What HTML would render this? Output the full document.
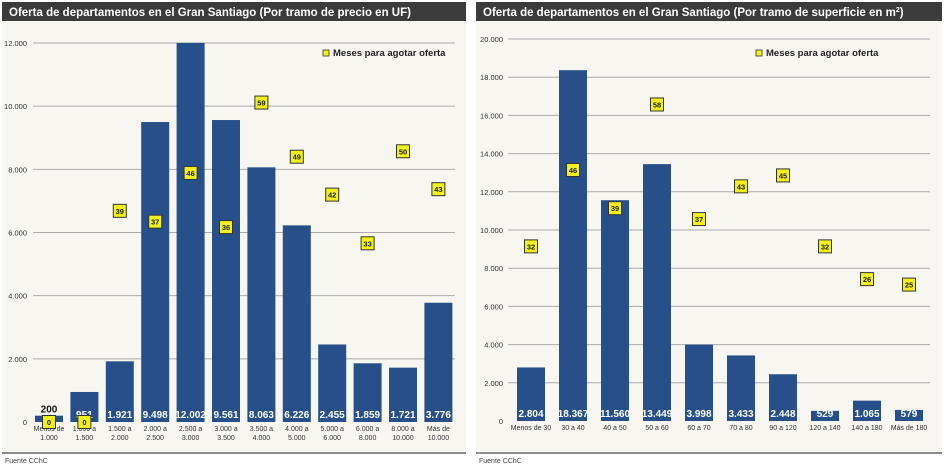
<!DOCTYPE html>
<html><head><meta charset="utf-8">
<style>
body{margin:0;width:945px;height:471px;background:#fff;overflow:hidden;font-family:"Liberation Sans",sans-serif}
svg{position:absolute;left:0;top:0}
</style></head>
<body>
<svg id="c" width="945" height="471"></svg>
<script>
const catsA=["Menos de|1.000","1.000 a|1.500","1.500 a|2.000","2.000 a|2.500","2.500 a|3.000","3.000 a|3.500","3.500 a|4.000","4.000 a|5.000","5.000 a|6.000","6.000 a|8.000","8.000 a|10.000","Más de|10.000"];
const unitsA=[200,951,1921,9498,12002,9561,8063,6226,2455,1859,1721,3776];
const monthsA=[0,0,39,37,46,36,59,49,42,33,50,43];
const ticksA=[0,2000,4000,6000,8000,10000,12000];
const catsB=["Menos de 30","30 a 40","40 a 50","50 a 60","60 a 70","70 a 80","90 a 120","120 a 140","140 a 180","Más de 180"];
const unitsB=[2804,18367,11560,13449,3998,3433,2448,529,1065,579];
const monthsB=[32,46,39,58,37,43,45,32,26,25];
const ticksB=[0,2000,4000,6000,8000,10000,12000,14000,16000,18000,20000];
const NS="http://www.w3.org/2000/svg";
const svg=document.getElementById('c');
function el(t,a,p){const e=document.createElementNS(NS,t);for(const k in a)e.setAttribute(k,a[k]);(p||svg).appendChild(e);return e;}
function fmt(v){return v.toString().replace(/\B(?=(\d{3})+(?!\d))/g,'.');}
function chart(o){
  const g=el('g',{});
  
  
  el('rect',{x:o.x0,y:2,width:o.w,height:449,fill:'#f7f6f1'},g);
  const tb=el('rect',{x:o.x0,y:2,width:o.w,height:19,fill:'#3b3b3b'},g);
  
  
  const tt=el('text',{x:o.x0+7,y:16,fill:'#fff','font-size':'11.5','font-weight':'bold'},g);
  tt.innerHTML=o.title;
  
  
  const y=v=>o.yb-(v/o.max)*(o.yb-o.yt);
  const ym=v=>o.yb-(v/70)*(o.yb-o.yt);
  const xc=i=>o.c0+i*o.step;
  o.ticks.forEach(t=>{
    if(t>0){const l=el('line',{x1:o.gx1,x2:o.gx2,y1:y(t),y2:y(t),stroke:'#aaa','stroke-width':1},g);
      }
    const tx=el('text',{x:o.lx,y:y(t)+3,'font-size':'7.5',fill:'#333','text-anchor':'end'},g);
    tx.textContent=fmt(t);
    
    
  });
  o.units.forEach((v,i)=>{
    const b=el('rect',{x:xc(i)-o.bw/2,y:y(v),width:o.bw,height:o.yb-y(v),fill:'#27508a'},g);
    
    
    const small=(o.yb-y(v))<8;
    const lt=el('text',{x:xc(i),y:small?y(v)-3:o.yb-4,'font-size':'10','font-weight':'bold',fill:small?'#111':'#fff','text-anchor':'middle'},g);
    lt.textContent=fmt(v);
    
    
    const parts=o.cats[i].split('|');
    parts.forEach((p,k)=>{
      const c=el('text',{x:xc(i),y:o.yb+9+k*9,'font-size':'7',fill:'#333','text-anchor':'middle'},g);
      c.textContent=p;
      
      
    });
  });
  o.months.forEach((m,i)=>{
    const cy=ym(m);
    const r=el('rect',{x:xc(i)-6.5,y:cy-6.5,width:13,height:13,fill:'#f2f01c',stroke:'#333','stroke-width':1},g);
    
    
    const t=el('text',{x:xc(i),y:cy+3,'font-size':'7.5','font-weight':'bold',fill:'#222','text-anchor':'middle'},g);
    t.textContent=m;
    
    
  });
  const lg=el('rect',{x:o.legx,y:o.legy-6,width:6,height:6,fill:'#f2f01c',stroke:'#333','stroke-width':0.8},g);
  
  
  const lt=el('text',{x:o.legx+10,y:o.legy,'font-size':'9.5','font-weight':'bold',fill:'#222'},g);
  lt.textContent='Meses para agotar oferta';
  
  
  const rl=el('line',{x1:o.x0,x2:o.x0+o.w,y1:453,y2:453,stroke:'#666','stroke-width':1.5},g);
  
  
  const f=el('text',{x:o.x0+3,y:463,'font-size':'7',fill:'#444'},g);
  f.textContent='Fuente  CChC';
  
  
}
chart({name:'chart-price',x0:2,w:464,title:'Oferta de departamentos en el Gran Santiago (Por tramo de precio en UF)',
  yt:43,yb:422,max:12000,gx1:33,gx2:455,lx:27,c0:49,step:35.4,bw:28,cats:catsA,units:unitsA,months:monthsA,ticks:ticksA,legx:323,legy:56});
chart({name:'chart-surface',x0:476,w:466,title:'Oferta de departamentos en el Gran Santiago (Por tramo de superficie en m<tspan font-size="7" dy="-4">2</tspan><tspan dy="4">)</tspan>',
  yt:39,yb:421,max:20000,gx1:508,gx2:930,lx:503,c0:531,step:42,bw:28,cats:catsB,units:unitsB,months:monthsB,ticks:ticksB,legx:756,legy:56});
</script>
</body></html>
